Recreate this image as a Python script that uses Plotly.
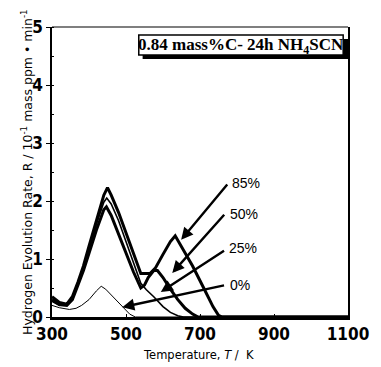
import plotly.graph_objects as go

# ---- data ----
t85 = [300, 320, 340, 355, 370, 385, 400, 420, 440, 450, 460, 480, 500, 520, 540, 565, 580, 600, 620, 633, 650, 680, 710, 735, 750, 760, 1100]
r85 = [0.35, 0.25, 0.22, 0.35, 0.60, 0.88, 1.22, 1.68, 2.10, 2.23, 2.10, 1.80, 1.45, 1.10, 0.75, 0.75, 0.85, 1.08, 1.30, 1.40, 1.22, 0.88, 0.50, 0.18, 0.03, 0.0, 0.0]

t50 = [300, 320, 340, 355, 370, 385, 400, 420, 440, 447, 460, 480, 500, 520, 540, 550, 560, 575, 585, 600, 620, 640, 660, 680, 695, 1100]
r50 = [0.30, 0.22, 0.20, 0.30, 0.55, 0.80, 1.10, 1.50, 1.85, 1.90, 1.75, 1.42, 1.10, 0.78, 0.50, 0.55, 0.68, 0.80, 0.80, 0.68, 0.48, 0.30, 0.15, 0.05, 0.0, 0.0]

t25 = [300, 320, 340, 355, 370, 385, 400, 420, 440, 448, 460, 480, 500, 520, 540, 555, 575, 600, 620, 640, 655, 1100]
r25 = [0.27, 0.20, 0.20, 0.30, 0.55, 0.85, 1.15, 1.60, 1.98, 2.05, 1.95, 1.66, 1.30, 0.95, 0.58, 0.47, 0.35, 0.18, 0.08, 0.02, 0.0, 0.0]

t0 = [300, 320, 347, 365, 380, 400, 420, 433, 445, 460, 475, 490, 510, 525, 1100]
r0 = [0.20, 0.16, 0.13, 0.15, 0.20, 0.30, 0.45, 0.53, 0.48, 0.38, 0.28, 0.17, 0.05, 0.0, 0.0]

labels = ["85%", "50%", "25%", "0%"]
label_pos = [(782, 2.31), (777, 1.77), (774, 1.19), (777, 0.55)]
arrow_tail = [(777, 2.31), (769, 1.79), (769, 1.16), (769, 0.55)]
arrow_head = [(649, 1.33), (625, 0.76), (594, 0.43), (490, 0.17)]

xticks = [300, 500, 700, 900, 1100]
yticks = [0, 1, 2, 3, 4, 5]

fig = go.Figure()
series = [(t0, r0, 1.0), (t25, r25, 1.6), (t50, r50, 3.0), (t85, r85, 3.0)]
for tx, ry, w in series:
    fig.add_trace(go.Scatter(x=tx, y=ry, mode="lines",
                             line=dict(color="black", width=w),
                             showlegend=False, hoverinfo="skip"))

annotations = []
for (hx, hy), (tx_, ty_) in zip(arrow_head, arrow_tail):
    annotations.append(dict(x=hx, y=hy, ax=tx_, ay=ty_, xref="x", yref="y",
                            axref="x", ayref="y", text="", showarrow=True,
                            arrowhead=2, arrowsize=1.0, arrowwidth=2.4,
                            arrowcolor="black", standoff=0))
for lab, (lx, ly) in zip(labels, label_pos):
    annotations.append(dict(x=lx, y=ly, xref="x", yref="y", text=lab,
                            showarrow=False, xanchor="left", yanchor="middle",
                            font=dict(family="Liberation Sans", size=14, color="black")))

# axis titles
annotations.append(dict(x=-0.0847, y=0.5, xref="paper", yref="paper",
                        text="Hydrogen Evolution Rate, R / 10<sup>-1</sup> mass ppm \u2022 min<sup>-1</sup>",
                        textangle=-90, showarrow=False, xanchor="center", yanchor="middle",
                        font=dict(family="DejaVu Sans", size=12.5, color="black")))
annotations.append(dict(x=0.494, y=-0.131, xref="paper", yref="paper",
                        text="Temperature, <i>T</i> /  K", showarrow=False,
                        xanchor="center", yanchor="middle",
                        font=dict(family="DejaVu Sans", size=11.5, color="black")))
# inset label
annotations.append(dict(x=(248 - 52) / 307, y=(317 - 46) / 290, xref="paper", yref="paper",
                        text="0.84 mass%C- 24h NH<sub>4</sub>SCN", showarrow=False,
                        xanchor="center", yanchor="middle",
                        font=dict(family="Liberation Serif", size=17, color="black", weight="bold")))

def px2paper_x(p):
    return (p - 52) / 307

def px2paper_y(p):
    return (317 - p) / 290

shapes = [
    # top frame line
    dict(type="line", xref="paper", yref="paper", x0=0, x1=1, y0=1, y1=1,
         line=dict(color="black", width=1.2)),
    # shadow of inset box
    dict(type="rect", xref="paper", yref="paper",
         x0=px2paper_x(146), x1=px2paper_x(359), y0=px2paper_y(59), y1=px2paper_y(39),
         fillcolor="black", line=dict(width=0)),
    # inset box
    dict(type="rect", xref="paper", yref="paper",
         x0=px2paper_x(142), x1=px2paper_x(354), y0=px2paper_y(55), y1=px2paper_y(35),
         fillcolor="white", line=dict(color="black", width=1.5)),
]

tickfont = dict(family="DejaVu Sans Condensed, Liberation Sans Narrow, Liberation Sans",
                size=17, color="black", weight="bold")

fig.update_layout(
    width=381, height=367,
    margin=dict(l=52, r=22, t=27, b=50),
    paper_bgcolor="white", plot_bgcolor="white",
    annotations=annotations, shapes=shapes,
    xaxis=dict(range=[300, 1100], tickvals=xticks, ticktext=[str(v) for v in xticks],
               showgrid=False, zeroline=False, showline=True, linecolor="black",
               linewidth=3, ticks="inside", ticklen=3, tickcolor="black",
               tickfont=tickfont, ticklabelstandoff=0),
    yaxis=dict(range=[0, 5], tickvals=yticks, ticktext=[str(v) for v in yticks],
               showgrid=False, zeroline=False, showline=True, linecolor="black",
               linewidth=1.5, mirror=True, ticks="outside", ticklen=4, tickcolor="black",
               tickfont=tickfont, ticklabelstandoff=0,
               minor=dict(ticks="inside", ticklen=2, dtick=0.5, tickcolor="black")),
)

fig.write_html("out.html")
